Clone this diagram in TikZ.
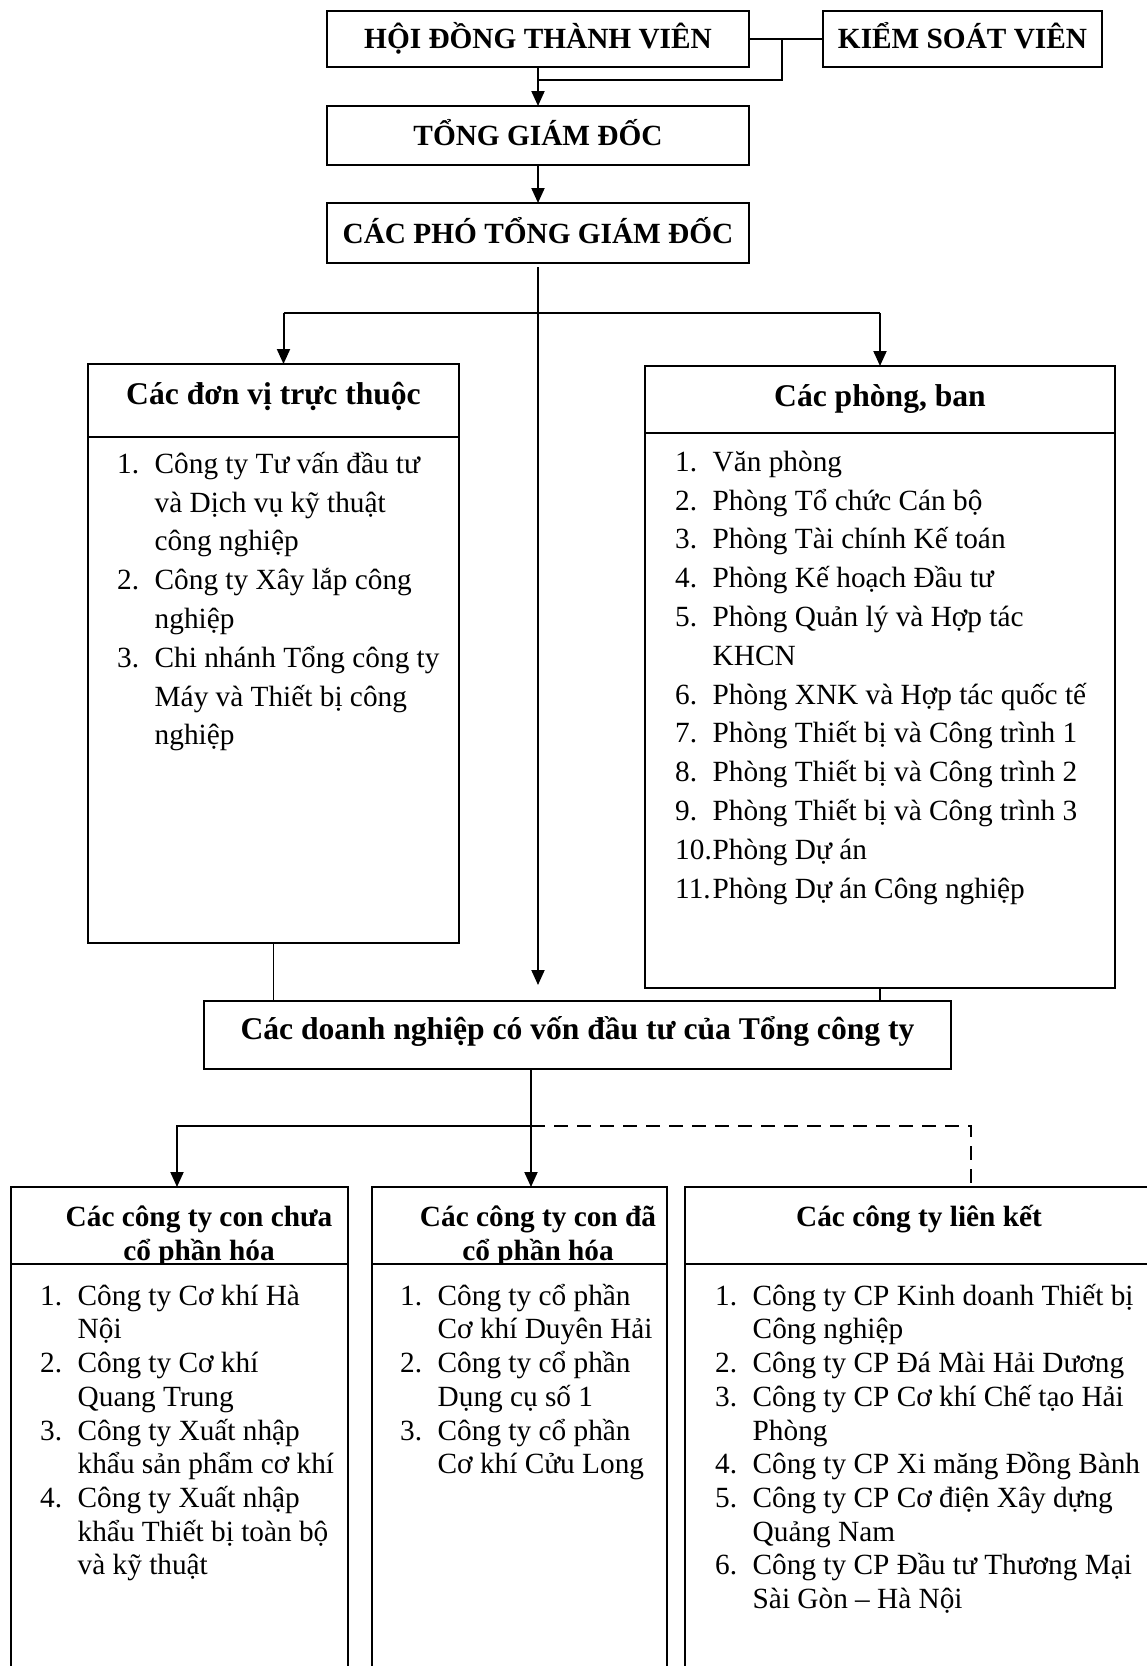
\documentclass[tikz,border=0pt]{standalone}
\usepackage{fontspec}
\setmainfont{Liberation Serif}
\usetikzlibrary{arrows.meta}
\newlength{\lnumw}
\setlength{\lnumw}{37.5pt}
\newcommand{\lnum}[1]{\makebox[\lnumw][l]{#1}}
\newcommand{\lcont}{\hspace*{\lnumw}}
\newcommand{\fstrut}{\rule{0pt}{32pt}}
\begin{document}
\begin{tikzpicture}[x=1pt,y=-1pt,
 box/.style={draw, line width=2pt, inner sep=0pt, outer sep=0pt},
 conn/.style={line width=2pt},
 thinconn/.style={line width=1.2pt},
 arr/.style={line width=2pt, -{Triangle[length=15pt,width=13pt]}},
 dashconn/.style={line width=2pt, dash pattern=on 14pt off 9pt},
 toptitle/.style={font=\fontsize{29.3}{34}\selectfont\bfseries, inner sep=0pt, anchor=base},
 midtitle/.style={font=\fontsize{31.6}{36}\selectfont\bfseries, inner sep=0pt, anchor=base},
 bottitle/.style={font=\fontsize{29.3}{33.7}\selectfont\bfseries, inner sep=0pt, anchor=base},
 midlist/.style={font={\fontsize{29.3}{38.8}\selectfont\lineskiplimit-100pt}, align=left, inner sep=0pt, anchor=north west},
 botlist/.style={font={\fontsize{29.3}{33.7}\selectfont\lineskiplimit-100pt}, align=left, inner sep=0pt, anchor=north west},
]
\useasboundingbox (0,0) rectangle (1147,1666);
\clip (0,0) rectangle (1147,1666);

% top boxes
\node[box, minimum width=422pt, minimum height=56pt] (HDTV) at (538,39) {};
\node[toptitle] (tHDTV) at (538,48) {HỘI ĐỒNG THÀNH VIÊN};
\node[box, minimum width=279pt, minimum height=56pt] (KSV) at (962.5,39) {};
\node[toptitle] (tKSV) at (962.5,48) {KIỂM SOÁT VIÊN};
\node[box, minimum width=422pt, minimum height=59pt] (TGD) at (538,135.5) {};
\node[toptitle] (tTGD) at (538,145) {TỔNG GIÁM ĐỐC};
\node[box, minimum width=422pt, minimum height=60pt] (CPTGD) at (538,233) {};
\node[toptitle] (tCPTGD) at (538,243) {CÁC PHÓ TỔNG GIÁM ĐỐC};

% middle boxes
\node[box, minimum width=371pt, minimum height=579pt] (DV) at (273.5,653.5) {};
\draw[conn] ([yshift=-72.5pt]DV.north west) -- ([yshift=-72.5pt]DV.north east);
\node[midtitle] (tDV) at (273.5,404) {Các đơn vị trực thuộc};
\node[midlist] (lDV) at (117,441) {\fstrut\lnum{1.}Công ty Tư vấn đầu tư\\\lcont và Dịch vụ kỹ thuật\\\lcont công nghiệp\\\lnum{2.}Công ty Xây lắp công\\\lcont nghiệp\\\lnum{3.}Chi nhánh Tổng công ty\\\lcont Máy và Thiết bị công\\\lcont nghiệp};

\node[box, minimum width=470pt, minimum height=622pt] (PB) at (880,677) {};
\draw[conn] ([yshift=-67pt]PB.north west) -- ([yshift=-67pt]PB.north east);
\node[midtitle] (tPB) at (880,406) {Các phòng, ban};
\node[midlist] (lPB) at (675,439) {\fstrut\lnum{1.}Văn phòng\\\lnum{2.}Phòng Tổ chức Cán bộ\\\lnum{3.}Phòng Tài chính Kế toán\\\lnum{4.}Phòng Kế hoạch Đầu tư\\\lnum{5.}Phòng Quản lý và Hợp tác\\\lcont KHCN\\\lnum{6.}Phòng XNK và Hợp tác quốc tế\\\lnum{7.}Phòng Thiết bị và Công trình 1\\\lnum{8.}Phòng Thiết bị và Công trình 2\\\lnum{9.}Phòng Thiết bị và Công trình 3\\\lnum{10.}Phòng Dự án\\\lnum{11.}Phòng Dự án Công nghiệp};

% DN box
\node[box, minimum width=747pt, minimum height=68pt] (DN) at (577.5,1035) {};
\node[midtitle] (tDN) at (577.5,1039) {Các doanh nghiệp có vốn đầu tư của Tổng công ty};

% bottom boxes
\node[box, minimum width=337pt, minimum height=533pt] (A) at (179.5,1453.5) {};
\node[box, minimum width=295pt, minimum height=533pt] (B) at (519.5,1453.5) {};
\node[box, minimum width=485pt, minimum height=533pt] (C) at (927.5,1453.5) {};
\node[bottitle] (tA1) at (199,1226) {Các công ty con chưa};
\node[bottitle] (tA2) at (199,1260) {cổ phần hóa};
\node[bottitle] (tB1) at (538,1226) {Các công ty con đã};
\node[bottitle] (tB2) at (538,1260) {cổ phần hóa};
\node[bottitle] (tC1) at (919,1226) {Các công ty liên kết};
\foreach \bx in {A,B,C}{
  \fill[white] ([xshift=1pt,yshift=-77pt]\bx.north west) rectangle ([xshift=-1pt]\bx.south east);
  \draw[conn] ([yshift=-77pt]\bx.north west) -- ([yshift=-77pt]\bx.north east);
}
\node[botlist] (lA) at (40,1273) {\fstrut\lnum{1.}Công ty Cơ khí Hà\\\lcont Nội\\\lnum{2.}Công ty Cơ khí\\\lcont Quang Trung\\\lnum{3.}Công ty Xuất nhập\\\lcont khẩu sản phẩm cơ khí\\\lnum{4.}Công ty Xuất nhập\\\lcont khẩu Thiết bị toàn bộ\\\lcont và kỹ thuật};
\node[botlist] (lB) at (400,1273) {\fstrut\lnum{1.}Công ty cổ phần\\\lcont Cơ khí Duyên Hải\\\lnum{2.}Công ty cổ phần\\\lcont Dụng cụ số 1\\\lnum{3.}Công ty cổ phần\\\lcont Cơ khí Cửu Long};
\node[botlist] (lC) at (715,1273) {\fstrut\lnum{1.}Công ty CP Kinh doanh Thiết bị\\\lcont Công nghiệp\\\lnum{2.}Công ty CP Đá Mài Hải Dương\\\lnum{3.}Công ty CP Cơ khí Chế tạo Hải\\\lcont Phòng\\\lnum{4.}Công ty CP Xi măng Đồng Bành\\\lnum{5.}Công ty CP Cơ điện Xây dựng\\\lcont Quảng Nam\\\lnum{6.}Công ty CP Đầu tư Thương Mại\\\lcont Sài Gòn – Hà Nội};

% connectors top
\coordinate (j1) at (782,39);
\coordinate (j2) at (782,80);
\draw[conn] (HDTV.east) -- (KSV.west);
\draw[conn] (j1) -- (j2) -- (HDTV.south |- j2);
\draw[arr] (HDTV.south) -- (TGD.north);
\draw[arr] (TGD.south) -- (CPTGD.north);

% central
\coordinate (c0) at (538,267);
\coordinate (c1) at (538,985);
\coordinate (bl) at (283.5,313);
\coordinate (br) at (880,313);
\draw[arr] (c0) -- (c1);
\draw[conn] (bl) -- (br);
\draw[arr] (bl) -- (bl |- DV.north);
\draw[arr] (br) -- (PB.north);
\draw[thinconn] (DV.south) -- (DV.south |- DN.north);
\draw[thinconn] (PB.south) -- (PB.south |- DN.north);

% bottom connectors
\coordinate (d0) at (531,1069);
\coordinate (d1) at (531,1126);
\coordinate (d2) at (177,1126);
\coordinate (d3) at (971,1126);
\draw[arr] (d0) -- (d0 |- B.north);
\draw[arr] (d1) -- (d2) -- (d2 |- A.north);
\draw[dashconn] (d1) -- (d3) -- (d3 |- C.north);
\end{tikzpicture}
\end{document}
